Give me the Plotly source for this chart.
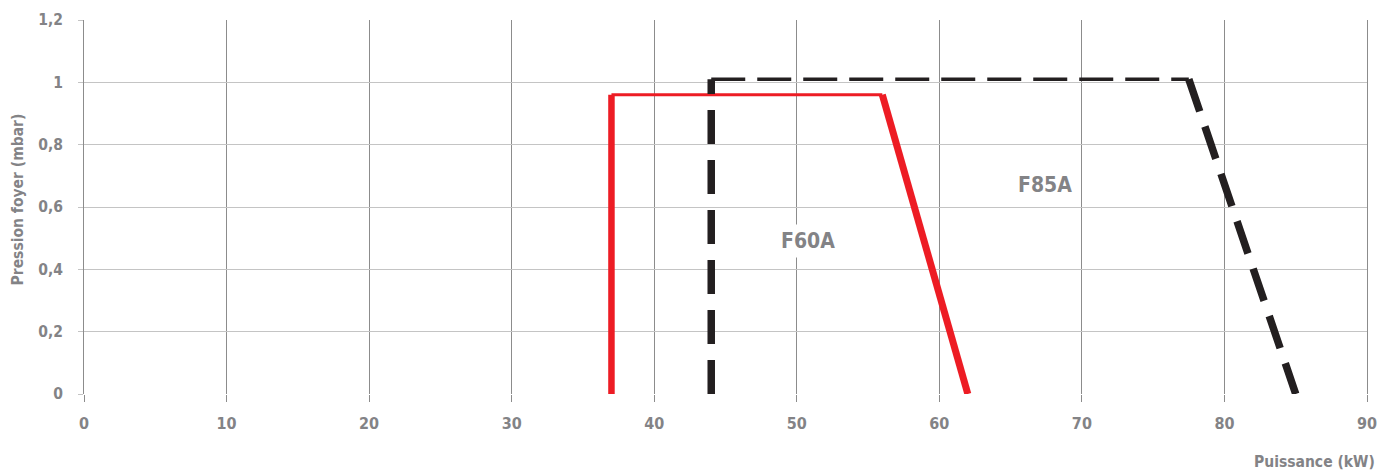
import plotly.graph_objects as go

# Data
f60a_x = [37, 37, 56, 62]
f60a_y = [0, 0.96, 0.96, 0]
f85a_x = [44, 44, 77.5, 85]
f85a_y = [0, 1.01, 1.01, 0]
labels = ["F60A", "F85A"]
label_x = [50.8, 67.4]
label_y = [0.49, 0.67]
x_ticks = [0, 10, 20, 30, 40, 50, 60, 70, 80, 90]
y_ticks = [0, 0.2, 0.4, 0.6, 0.8, 1, 1.2]
y_ticktext = ["0", "0,2", "0,4", "0,6", "0,8", "1", "1,2"]

RED = "#ED1C24"
BLACK = "#231F20"
TXT = "#838386"
FONT = "DejaVu Sans Condensed, Roboto, sans-serif"

fig = go.Figure()

# segment widths: vertical, horizontal, slope
red_widths = [6.5, 3, 7]
blk_widths = [7.5, 3.5, 7.5]
blk_dash = ["34px,16px", "34px,12px", "34px,16px"]

for i in range(3):
    fig.add_trace(go.Scatter(
        x=f60a_x[i:i + 2], y=f60a_y[i:i + 2], mode="lines",
        line=dict(color=RED, width=red_widths[i]),
        showlegend=False, hoverinfo="skip"))

for i in range(3):
    fig.add_trace(go.Scatter(
        x=f85a_x[i:i + 2], y=f85a_y[i:i + 2], mode="lines",
        line=dict(color=BLACK, width=blk_widths[i], dash=blk_dash[i]),
        showlegend=False, hoverinfo="skip"))

for t, lx, ly in zip(labels, label_x, label_y):
    fig.add_annotation(x=lx, y=ly, text=f"<b>{t}</b>", showarrow=False,
                       font=dict(family=FONT, size=21, color=TXT),
                       bgcolor="white", borderpad=4)

# axis titles as annotations (fixed positions)
fig.add_annotation(xref="paper", yref="paper", x=1.0078, y=-0.183,
                   xanchor="right", yanchor="middle",
                   text="<b>Puissance (kW)</b>", showarrow=False,
                   font=dict(family=FONT, size=15.5, color=TXT))
fig.add_annotation(xref="paper", yref="paper", x=-0.0515, y=0.52,
                   xanchor="center", yanchor="middle", textangle=-90,
                   text="<b>Pression foyer (mbar)</b>", showarrow=False,
                   font=dict(family=FONT, size=15.5, color=TXT))

fig.update_xaxes(
    range=[0, 90], tickvals=x_ticks, ticktext=[str(v) for v in x_ticks],
    showgrid=True, gridcolor="#8c8c8c", gridwidth=1,
    zeroline=False, showline=False, automargin=False,
    ticks="outside", ticklen=7, tickcolor="#8c8c8c", tickwidth=1,
    ticklabelstandoff=8,
    tickfont=dict(family=FONT, size=16, color=TXT, weight="bold"),
)
fig.update_yaxes(
    range=[0, 1.2], tickvals=y_ticks, ticktext=y_ticktext,
    showgrid=True, gridcolor="#c4c4c4", gridwidth=1,
    zeroline=False, showline=True, linecolor="#8c8c8c", linewidth=1,
    mirror=True, automargin=False,
    ticks="outside", ticklen=5, tickcolor="#c4c4c4", tickwidth=1,
    ticklabelstandoff=12,
    tickfont=dict(family=FONT, size=15.5, color=TXT, weight="bold"),
)

fig.update_layout(
    width=1379, height=472,
    margin=dict(l=84, r=12, t=20, b=78),
    plot_bgcolor="white", paper_bgcolor="white",
    showlegend=False,
)

fig.write_html("out.html", config={"displayModeBar": False},
               post_script="document.body.style.margin='0';")
